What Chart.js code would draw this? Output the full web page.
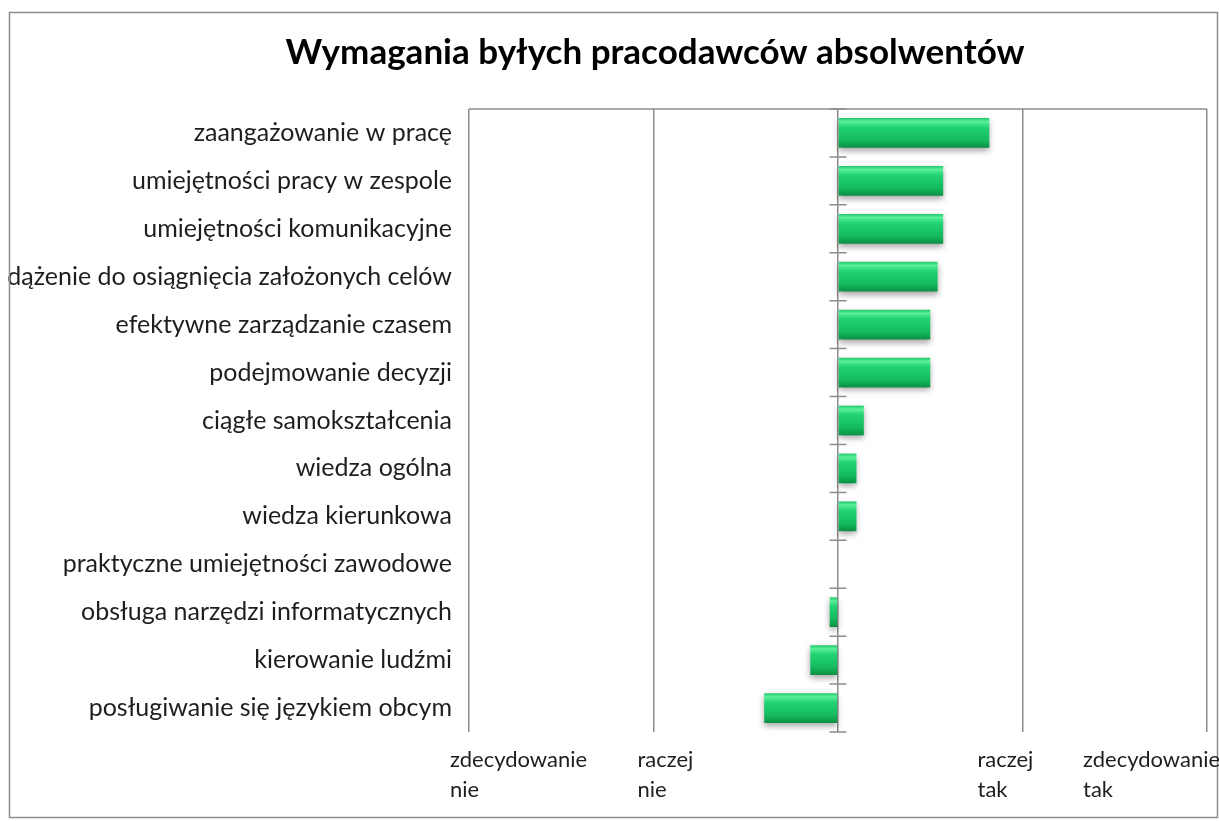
<!DOCTYPE html>
<html>
<head>
<meta charset="utf-8">
<script src="https://cdn.jsdelivr.net/npm/chart.js@4/dist/chart.umd.min.js"></script>
<style>
  html, body { margin: 0; padding: 0; background: #fff; }
  #wrap { width: 1219px; height: 821px; }
</style>
</head>
<body>
<div id="wrap"><canvas id="chart" width="1219" height="821"></canvas></div>
<script>
// dane z wykresu
var tytul = 'Wymagania byłych pracodawców absolwentów'
var kategorie = [
    'zaangażowanie w pracę',
    'umiejętności pracy w zespole',
    'umiejętności komunikacyjne',
    'dążenie do osiągnięcia założonych celów',
    'efektywne zarządzanie czasem',
    'podejmowanie decyzji',
    'ciągłe samokształcenia',
    'wiedza ogólna',
    'wiedza kierunkowa',
    'praktyczne umiejętności zawodowe',
    'obsługa narzędzi informatycznych',
    'kierowanie ludźmi',
    'posługiwanie się językiem obcym'
]
var wartosci = [0.82, 0.57, 0.57, 0.54, 0.50, 0.50, 0.14, 0.10, 0.10, 0, -0.045, -0.15, -0.40]
var skalaWartosci = [-2, -1, 0, 1, 2]
var skalaOpisy = [['zdecydowanie', 'nie'], ['raczej', 'nie'], [], ['raczej', 'tak'], ['zdecydowanie', 'tak']]

// przesuniecia opisow osi X (tak jak w Excelu)
var przesuniecieOpisow = [-19, -16, 0, -45, -124]

var szary = '#8c8c8c'
var czcionka = 'Lato'
var szerokoscSlupka = 0.62

// gradient na slupkach
function kolorSlupka(context) {
    var chart = context.chart
    var y = chart.scales.y
    if (!chart.chartArea || !y) return '#16c064'
    var srodek = y.getPixelForValue(context.dataIndex)
    var pol = Math.abs(y.getPixelForValue(1) - y.getPixelForValue(0)) * szerokoscSlupka / 2
    var g = chart.ctx.createLinearGradient(0, srodek - pol, 0, srodek + pol)
    g.addColorStop(0, '#1cc96b')
    g.addColorStop(0.12, '#5cef9c')
    g.addColorStop(0.3, '#22d473')
    g.addColorStop(0.75, '#14b95e')
    g.addColorStop(1, '#0b8f45')
    return g
}

var dodatki = {
    id: 'dodatki',
    beforeDatasetsDraw: function(chart) {
        var ctx = chart.ctx
        ctx.save()
        ctx.shadowColor = 'rgba(0,0,0,0.35)'
        ctx.shadowBlur = 6
        ctx.shadowOffsetY = 3
    },
    afterDatasetsDraw: function(chart) {
        chart.ctx.restore()
    },
    afterDraw: function(chart) {
        var ctx = chart.ctx
        var a = chart.chartArea
        var x = chart.scales.x
        var y = chart.scales.y
        ctx.save()

        // ramka calego wykresu
        ctx.strokeStyle = szary
        ctx.lineWidth = 1.5
        ctx.strokeRect(9.5, 12.5, 1208, 805)

        // tytul
        ctx.fillStyle = '#000'
        ctx.font = 'bold 35px ' + czcionka
        ctx.textAlign = 'center'
        ctx.textBaseline = 'alphabetic'
        ctx.fillText(tytul, 655, 64)

        // gorna linia obszaru
        ctx.beginPath()
        ctx.moveTo(a.left, a.top)
        ctx.lineTo(a.right, a.top)
        ctx.stroke()

        // znaczniki na osi zero
        var x0 = x.getPixelForValue(0)
        var krok = (y.getPixelForValue(1) - y.getPixelForValue(0))
        ctx.beginPath()
        for (var i = 0; i <= kategorie.length; i++) {
            var py = y.getPixelForValue(i) - krok / 2
            ctx.moveTo(x0 - 8.5, py)
            ctx.lineTo(x0 + 8.5, py)
        }
        ctx.stroke()

        // opisy osi X
        ctx.fillStyle = '#1e1e1e'
        ctx.font = '22px ' + czcionka
        ctx.textAlign = 'left'
        for (var j = 0; j < skalaWartosci.length; j++) {
            var px = x.getPixelForValue(skalaWartosci[j]) + przesuniecieOpisow[j]
            var linie = skalaOpisy[j]
            for (var k = 0; k < linie.length; k++) {
                ctx.fillText(linie[k], px, a.bottom + 35 + k * 30)
            }
        }
        ctx.restore()
    }
}

var ctx = document.getElementById('chart')
var chart = new Chart(ctx, {
    type: 'bar',
    data: {
        labels: kategorie,
        datasets: [{
            data: wartosci,
            backgroundColor: kolorSlupka,
            borderWidth: 0,
            barPercentage: szerokoscSlupka,
            categoryPercentage: 1
        }]
    },
    options: {
        indexAxis: 'y',
        responsive: false,
        animation: false,
        layout: { padding: { left: 0, right: 12, top: 109, bottom: 0 } },
        plugins: {
            legend: { display: false },
            tooltip: { enabled: false },
            title: { display: false }
        },
        scales: {
            x: {
                min: -2,
                max: 2,
                ticks: { display: false, stepSize: 1 },
                grid: { color: szary, lineWidth: 1.5, drawTicks: false },
                border: { display: false },
                afterFit: function(scale) { scale.height = 89 }
            },
            y: {
                ticks: {
                    color: '#1e1e1e',
                    padding: 17,
                    font: { family: czcionka, size: 25 }
                },
                grid: { display: false, drawTicks: false },
                border: { display: false },
                afterFit: function(scale) { scale.width = 469 }
            }
        }
    },
    plugins: [dodatki]
})
</script>
</body>
</html>
